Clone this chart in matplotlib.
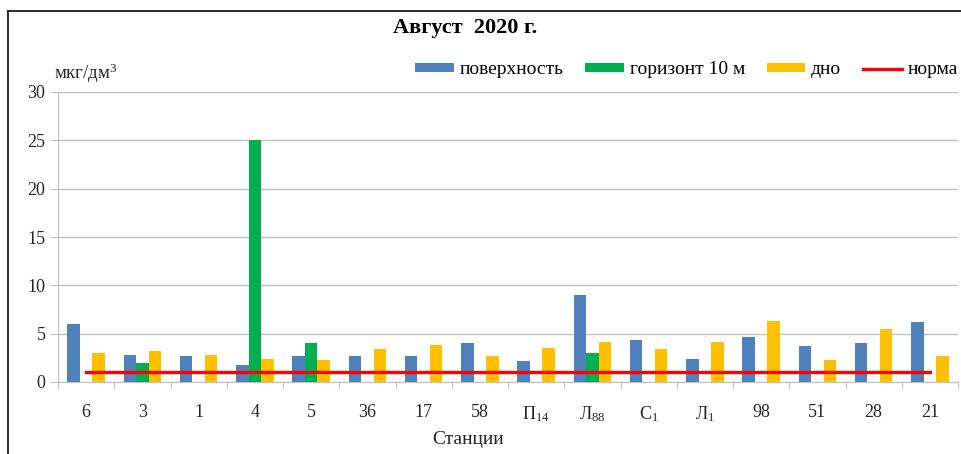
import numpy as np
import matplotlib
matplotlib.use("Agg")
import matplotlib.pyplot as plt
from matplotlib.lines import Line2D

plt.rcParams['font.family'] = ['Liberation Serif', 'DejaVu Serif']
plt.rcParams['mathtext.fontset'] = 'custom'
plt.rcParams['mathtext.rm'] = 'Liberation Serif'
plt.rcParams['mathtext.it'] = 'Liberation Serif'

stations = ['6', '3', '1', '4', '5', '36', '17', '58', 'П$_{14}$', 'Л$_{88}$',
            'С$_{1}$', 'Л$_{1}$', '98', '51', '28', '21']
surface = [6.0, 2.8, 2.7, 1.8, 2.7, 2.7, 2.7, 4.0, 2.2, 9.0, 4.3, 2.4, 4.7, 3.7, 4.0, 6.2]
horizon10 = [np.nan, 2.0, np.nan, 25.0, 4.0, np.nan, np.nan, np.nan, np.nan, 3.0,
             np.nan, np.nan, np.nan, np.nan, np.nan, np.nan]
bottom = [3.0, 3.2, 2.8, 2.4, 2.3, 3.4, 3.8, 2.7, 3.5, 4.1, 3.4, 4.1, 6.3, 2.3, 5.5, 2.7]
norm = [1.0] * len(stations)

W, H = 961, 454
fig = plt.figure(figsize=(W / 100, H / 100), dpi=100)
ax = fig.add_axes([58 / W, 1 - 382 / H, 900 / W, 290 / H])

x = np.arange(len(stations))
w = 0.222
b1 = ax.bar(x - w, surface, w, color='#4F81BD', label='поверхность', zorder=3)
b2 = ax.bar(x, horizon10, w, color='#00B050', label='горизонт 10 м', zorder=3)
b3 = ax.bar(x + w, bottom, w, color='#FFC000', label='дно', zorder=3)
l1, = ax.plot(x, norm, color='#FF0000', lw=2.4, label='норма', zorder=4)

ax.set_xlim(-0.5, len(stations) - 0.5)
ax.set_ylim(0, 30)
ax.set_yticks(range(0, 31, 5))
ax.yaxis.grid(True, color='#BFBFBF', lw=1.0, zorder=0)
ax.set_axisbelow(True)

ax.set_xticks(np.arange(-0.5, len(stations), 1.0))
ax.set_xticklabels([])
ax.set_xticks(x, minor=True)
ax.set_xticklabels(stations, minor=True)
ax.tick_params(axis='x', which='major', length=5, color='#BFBFBF', direction='out')
ax.tick_params(axis='x', which='minor', length=0, pad=16, labelsize=13, labelcolor='#262626')
ax.tick_params(axis='y', length=6, color='#BFBFBF', labelsize=13, labelcolor='#262626', pad=3)

for s in ['top', 'right']:
    ax.spines[s].set_visible(False)
for s in ['left', 'bottom']:
    ax.spines[s].set_color('#BFBFBF')

fig.text(468 / W, 1 - 440 / H, 'Станции', ha='center', va='center', fontsize=14, color='#262626')
fig.text(465 / W, 1 - 28 / H, 'Август  2020 г.', ha='center', va='center',
         fontsize=16, fontweight='bold', color='black')
fig.text(54 / W, 1 - 73 / H, 'мкг/дм$^{3}$', ha='left', va='center', fontsize=13.5, color='#262626')

fig.legend([b1, b2, b3, l1], ['поверхность', 'горизонт 10 м', 'дно', 'норма'],
           loc='center right', bbox_to_anchor=(1.015, 1 - 70 / H),
           ncol=4, frameon=False, fontsize=14, handlelength=2.0, handleheight=0.35,
           handletextpad=0.3, columnspacing=1.1)

fig.add_artist(Line2D([8 / W, 8 / W], [0, 1 - 11 / H], color='#1a1a1a', lw=1.3,
                      transform=fig.transFigure))
fig.add_artist(Line2D([8 / W, 1], [1 - 11 / H, 1 - 11 / H], color='#1a1a1a', lw=1.3,
                      transform=fig.transFigure))

fig.savefig('out.png', dpi=100)
